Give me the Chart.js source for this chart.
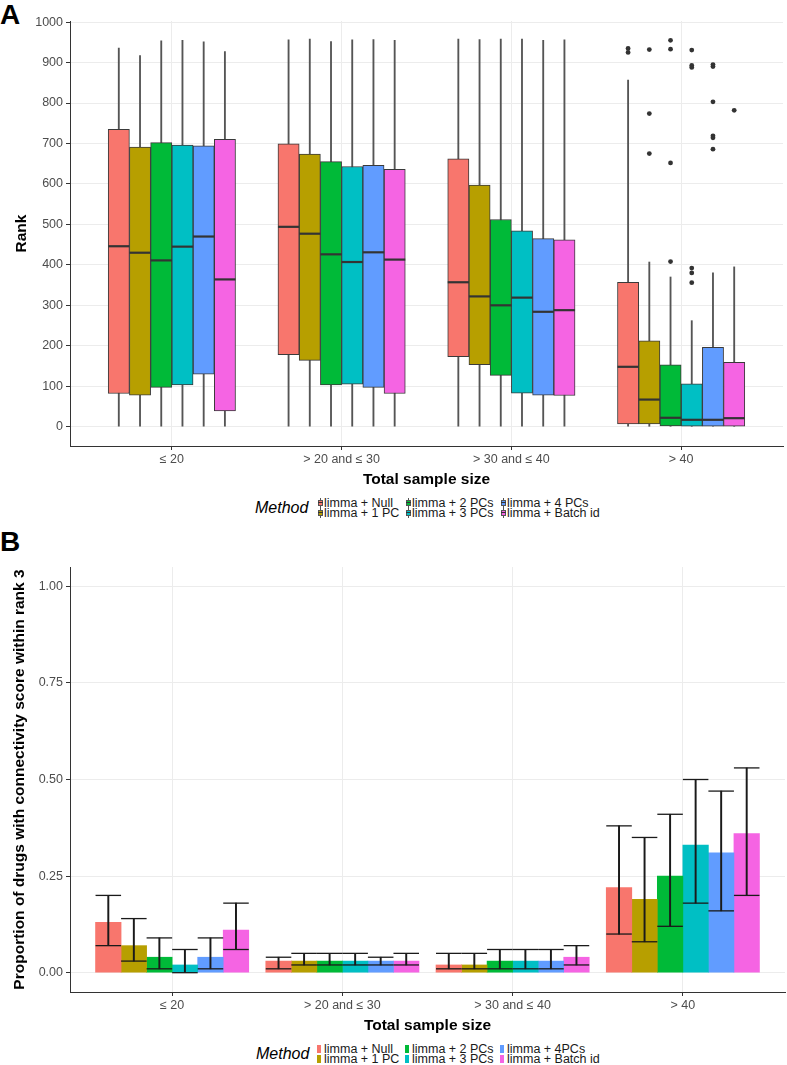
<!DOCTYPE html>
<html>
<head>
<meta charset="utf-8">
<script src="https://cdn.jsdelivr.net/npm/chart.js@4.4.1/dist/chart.umd.min.js"></script>
<style>
  html, body { margin: 0; padding: 0; background: #fff; }
  body { width: 787px; height: 1065px; position: relative; overflow: hidden; font-family: "Liberation Sans", Arial, sans-serif; color: #000; }
  .tag { position: absolute; left: 0; font-weight: bold; font-size: 28px; line-height: 1; }
  .wrap { position: absolute; left: 0; }
  .lg-title { position: absolute; font-style: italic; font-size: 16px; line-height: 1; white-space: nowrap; }
  .lg-text { position: absolute; font-size: 12.5px; line-height: 1; white-space: nowrap; color: #1a1a1a; }
  .key { position: absolute; }
  .key.fill { width: 4px; height: 8px; }
  .key.box { width: 5px; height: 10px; }
  .key.box .stem { position: absolute; left: 2px; top: 0; width: 1px; height: 10px; background: #555; }
  .key.box .body { position: absolute; left: 0; top: 2px; width: 3px; height: 4px; border: 1px solid #555; }
  .key.box .mid { position: absolute; left: 0; top: 4px; width: 5px; height: 1px; background: #333; }
</style>
</head>
<body>
<div class="tag" style="top:1px">A</div>
<div class="wrap" style="top:0"><canvas id="rankChart" width="787" height="492"></canvas></div>
<div class="tag" style="top:528px">B</div>
<div class="wrap" style="top:540px"><canvas id="propChart" width="787" height="498"></canvas></div>

<script>
const qs = (s, el = document) => el.querySelector(s);

// ---- data ----
const categories = ["≤ 20", "> 20 and ≤ 30", "> 30 and ≤ 40", "> 40"];
const methodsA = ["limma + Null", "limma + 1 PC", "limma + 2 PCs", "limma + 3 PCs", "limma + 4 PCs", "limma + Batch id"];
const methodsB = ["limma + Null", "limma + 1 PC", "limma + 2 PCs", "limma + 3 PCs", "limma + 4PCs", "limma + Batch id"];
const methodColors = ["#F8766D", "#B79F00", "#00BA38", "#00BFC4", "#619CFF", "#F564E3"];

const rankTicks = [0, 100, 200, 300, 400, 500, 600, 700, 800, 900, 1000];
const propTicks = [0, 0.25, 0.5, 0.75, 1];

// boxplot stats, one row per method, one column per sample-size group
const rankLow = [
  [1, 1, 1, 1],
  [1, 1, 1, 1],
  [1, 1, 1, 1],
  [1, 1, 1, 1],
  [1, 1, 1, 1],
  [1, 1, 1, 1],
];
const rankQ1 = [
  [82, 178, 173, 7],
  [78, 164, 153, 7],
  [97, 103, 127, 2],
  [103, 105, 83, 1],
  [130, 97, 78, 1],
  [39, 82, 77, 1],
];
const rankMedian = [
  [446, 494, 357, 148],
  [430, 477, 322, 67],
  [411, 426, 300, 22],
  [445, 407, 319, 17],
  [470, 431, 284, 17],
  [364, 413, 288, 21],
];
const rankQ3 = [
  [735, 699, 662, 357],
  [691, 674, 597, 212],
  [702, 655, 512, 153],
  [696, 643, 484, 106],
  [694, 646, 465, 196],
  [710, 636, 462, 159],
];
const rankHigh = [
  [936, 956, 958, 857],
  [917, 958, 957, 407],
  [954, 952, 958, 370],
  [955, 956, 958, 262],
  [951, 957, 955, 380],
  [927, 955, 956, 395],
];
// outliers only in the "> 40" group
const rankOutliers = [
  [935, 925],
  [932, 774, 675],
  [955, 933, 652, 408],
  [931, 893, 888, 392, 380, 356],
  [895, 890, 803, 719, 714, 686],
  [782],
];

const propValue = [
  [0.13, 0.03, 0.02, 0.22],
  [0.07, 0.03, 0.02, 0.19],
  [0.04, 0.03, 0.03, 0.25],
  [0.02, 0.03, 0.03, 0.33],
  [0.04, 0.03, 0.03, 0.31],
  [0.11, 0.03, 0.04, 0.36],
];
const propLower = [
  [0.07, 0.01, 0.01, 0.10],
  [0.03, 0.02, 0.01, 0.08],
  [0.01, 0.02, 0.01, 0.12],
  [0.00, 0.02, 0.01, 0.18],
  [0.01, 0.02, 0.01, 0.16],
  [0.06, 0.02, 0.02, 0.20],
];
const propUpper = [
  [0.20, 0.04, 0.05, 0.38],
  [0.14, 0.05, 0.05, 0.35],
  [0.09, 0.05, 0.06, 0.41],
  [0.06, 0.05, 0.06, 0.50],
  [0.09, 0.04, 0.06, 0.47],
  [0.18, 0.05, 0.07, 0.53],
];

// ---- chart setup ----
const FONT = '"Liberation Sans", Arial, sans-serif';
Chart.defaults.font.family = FONT;
Chart.defaults.color = "#4d4d4d";

const BOX_W = 0.125; // dodge width 0.75 / 6
const BAR_W = 0.15;  // dodge width 0.9 / 6
const xPos = (j, i, w) => j + (i - 2.5) * w;
const halfWidth = (w) => (ctx) => {
  const s = ctx.chart.scales.x;
  return Math.abs(s.getPixelForValue(w) - s.getPixelForValue(0)) / 2;
};

function xScale(plotTitle) {
  return {
    type: "linear",
    min: -0.6,
    max: 3.6,
    offset: false,
    afterBuildTicks: (s) => { s.ticks = categories.map((_, j) => ({ value: j })); },
    afterFit: (s) => { s.height = 46; },
    ticks: {
      color: "#4d4d4d",
      font: { size: 12.5 },
      padding: 2,
      autoSkip: false,
      maxRotation: 0,
      callback: (v) => categories[Math.round(v)],
    },
    grid: { offset: false, color: "#ececec", lineWidth: 1, tickLength: 4, tickColor: "#333" },
    border: { color: "#333", width: 1 },
    title: { display: true, text: plotTitle, color: "#000", font: { size: 15.5, weight: "bold" }, padding: { top: 0, bottom: 3 } },
  };
}

function yScale(min, max, ticks, fmt, plotTitle, titlePad) {
  return {
    type: "linear",
    min, max,
    afterBuildTicks: (s) => { s.ticks = ticks.map((v) => ({ value: v })); },
    afterFit: (s) => { s.width = 70; },
    ticks: { color: "#4d4d4d", font: { size: 12.5 }, padding: 3, callback: fmt },
    grid: { color: "#ececec", lineWidth: 1, tickLength: 4, tickColor: "#333" },
    border: { color: "#333", width: 1 },
    title: { display: true, text: plotTitle, color: "#000", font: { size: 15.5, weight: "bold" }, padding: { top: titlePad, bottom: 0 } },
  };
}

const baseOpts = {
  responsive: false,
  animation: false,
  events: [],
  plugins: { legend: { display: false }, tooltip: { enabled: false } },
};

// ---- panel A: boxplots ----
const rankSets = [];
methodsA.forEach((m, i) => {
  rankSets.push({
    type: "scatter",
    label: m + " outliers",
    data: rankOutliers[i].map((v) => ({ x: xPos(3, i, BOX_W), y: v })),
    pointRadius: 2.4,
    pointBackgroundColor: "#333",
    pointBorderWidth: 0,
  });
});
methodsA.forEach((m, i) => {
  rankSets.push({
    type: "scatter",
    label: m + " median",
    data: categories.map((_, j) => ({ x: xPos(j, i, BOX_W), y: rankMedian[i][j] })),
    pointStyle: "line",
    pointRadius: halfWidth(BOX_W),
    pointBorderColor: "#333",
    pointBorderWidth: 2.2,
  });
});
methodsA.forEach((m, i) => {
  rankSets.push({
    type: "bar",
    label: m,
    data: categories.map((_, j) => ({ x: xPos(j, i, BOX_W), y: [rankQ1[i][j], rankQ3[i][j]] })),
    backgroundColor: methodColors[i],
    borderColor: "#3a3a3a",
    borderWidth: 1,
    borderSkipped: false,
    grouped: false,
    barPercentage: 1,
    categoryPercentage: 1,
  });
});
methodsA.forEach((m, i) => {
  rankSets.push({
    type: "bar",
    label: m + " whisker",
    data: categories.map((_, j) => ({ x: xPos(j, i, BOX_W), y: [rankLow[i][j], rankHigh[i][j]] })),
    backgroundColor: "#555",
    barThickness: 1.2,
    grouped: false,
  });
});

new Chart(qs("#rankChart"), {
  type: "bar",
  data: { datasets: rankSets },
  options: {
    ...baseOpts,
    layout: { padding: { top: 21, right: 2, left: 0, bottom: 0 } },
    scales: {
      x: xScale("Total sample size"),
      y: yScale(-47.75, 1002.75, rankTicks, (v) => String(v), "Rank", 12),
    },
  },
});

// ---- panel B: bars with error bars ----
const propSets = [];
methodsB.forEach((m, i) => {
  const caps = [];
  categories.forEach((_, j) => {
    caps.push({ x: xPos(j, i, BAR_W), y: propLower[i][j] });
    caps.push({ x: xPos(j, i, BAR_W), y: propUpper[i][j] });
  });
  propSets.push({
    type: "scatter",
    label: m + " caps",
    data: caps,
    pointStyle: "line",
    pointRadius: halfWidth(BAR_W),
    pointBorderColor: "#1a1a1a",
    pointBorderWidth: 1.3,
  });
});
methodsB.forEach((m, i) => {
  propSets.push({
    type: "bar",
    label: m + " interval",
    data: categories.map((_, j) => ({ x: xPos(j, i, BAR_W), y: [propLower[i][j], propUpper[i][j]] })),
    backgroundColor: "#1a1a1a",
    barThickness: 1.3,
    grouped: false,
  });
});
methodsB.forEach((m, i) => {
  propSets.push({
    type: "bar",
    label: m,
    data: categories.map((_, j) => ({ x: xPos(j, i, BAR_W), y: propValue[i][j] })),
    backgroundColor: methodColors[i],
    borderWidth: 0,
    grouped: false,
    barPercentage: 1,
    categoryPercentage: 1,
  });
});

new Chart(qs("#propChart"), {
  type: "bar",
  data: { datasets: propSets },
  options: {
    ...baseOpts,
    layout: { padding: { top: 27, right: 2, left: 0, bottom: 0 } },
    scales: {
      x: xScale("Total sample size"),
      y: yScale(-0.05, 1.05, propTicks, (v) => v.toFixed(2), "Proportion of drugs with connectivity score within rank 3", 10),
    },
  },
});

// ---- legends (ggplot style, filled column by column) ----
function buildLegend(labels, kind, titleX, titleY, keyX, textX, rowY) {
  const t = document.createElement("div");
  t.className = "lg-title";
  t.textContent = "Method";
  t.style.left = titleX + "px";
  t.style.top = (titleY - 8) + "px";
  document.body.appendChild(t);

  labels.forEach((lab, i) => {
    const col = Math.floor(i / 2);
    const row = i % 2;
    const key = document.createElement("div");
    key.className = "key " + kind;
    if (kind === "box") {
      key.innerHTML = '<div class="stem"></div><div class="body"></div><div class="mid"></div>';
      key.querySelector(".body").style.background = methodColors[i];
      key.style.top = (rowY[row] - 5) + "px";
    } else {
      key.style.background = methodColors[i];
      key.style.top = (rowY[row] - 4) + "px";
    }
    key.style.left = keyX[col] + "px";
    document.body.appendChild(key);

    const txt = document.createElement("div");
    txt.className = "lg-text";
    txt.textContent = lab;
    txt.style.left = textX[col] + "px";
    txt.style.top = (rowY[row] - 6) + "px";
    document.body.appendChild(txt);
  });
}

buildLegend(methodsA, "box", 255, 508, [318, 406, 501], [324, 412, 507], [503, 513]);
buildLegend(methodsB, "fill", 256, 1054, [317, 405, 500], [324, 412, 507], [1049, 1059]);
</script>
</body>
</html>
